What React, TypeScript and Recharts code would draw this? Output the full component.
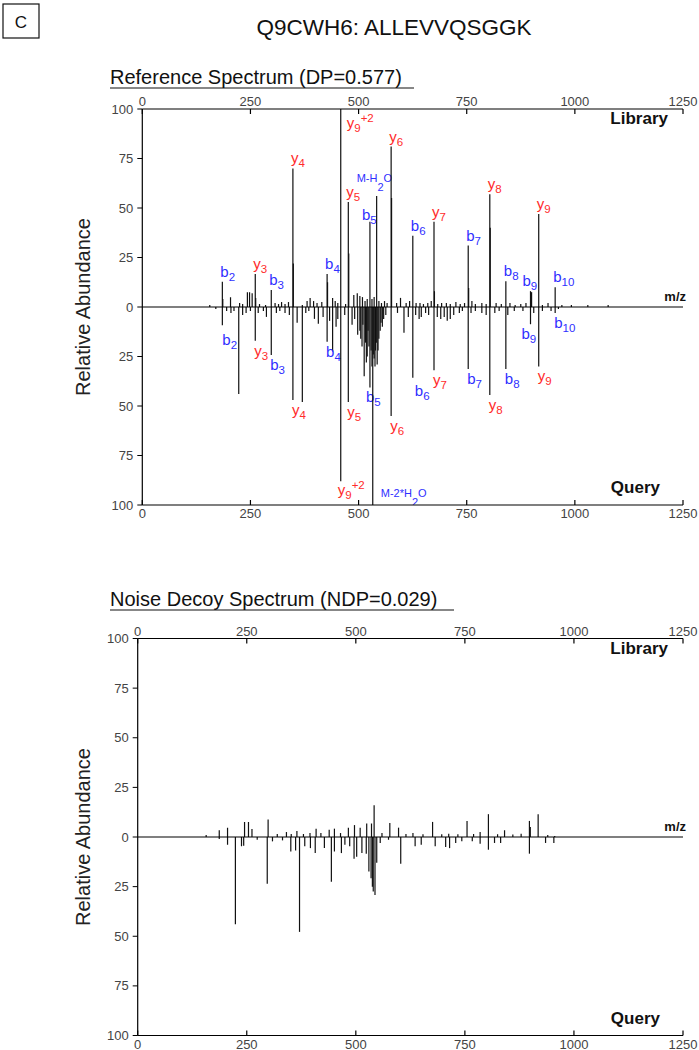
import React from 'react';
import { ComposedChart, Bar, XAxis, YAxis, ReferenceLine } from 'recharts';

const FONT = 'Arial, "Liberation Sans", Helvetica, sans-serif';
const RED = '#ff2b2b';
const BLUE = '#2f2fff';

const mzTicks = [0, 250, 500, 750, 1000, 1250];
const abundanceTicks = [-100, -75, -50, -25, 0, 25, 50, 75, 100];

// reference spectrum, annotated fragments: [m/z, relative abundance, ion]
const refLibraryIons: [number, number, string][] = [
  [185.1, 12.8, 'b2'], [261.2, 16.7, 'y3'], [298.2, 8.6, 'b3'], [348.2, 70, 'y4'],
  [427.3, 16.7, 'b4'], [458.8, 100, 'y9+2'], [476.3, 53, 'y5'], [526.3, 43, 'b5'],
  [541.8, 56, 'M-H2O'], [575.3, 81, 'y6'], [625.4, 36, 'b6'], [674.4, 43, 'y7'],
  [753.5, 31, 'b7'], [803.4, 57, 'y8'], [840.5, 13, 'b8'], [897.5, 8, 'b9'],
  [916.5, 47, 'y9'], [954.5, 10, 'b10'],
];
const refQueryIons: [number, number, string][] = [
  [185.1, 9.2, 'b2'], [261.2, 17, 'y3'], [298.2, 24.3, 'b3'], [348.2, 47, 'y4'],
  [427.3, 17.5, 'b4'], [458.8, 88, 'y9+2'], [476.3, 48, 'y5'], [526.3, 40.6, 'b5'],
  [532.8, 100, 'M-2*H2O'], [575.3, 55, 'y6'], [625.4, 35.7, 'b6'], [674.4, 32, 'y7'],
  [753.5, 31.3, 'b7'], [803.4, 44.5, 'y8'], [840.5, 31.3, 'b8'], [897.5, 8.7, 'b9'],
  [916.5, 30, 'y9'], [954.5, 3, 'b10'],
];

// unlabelled peaks (isotopes and noise): [m/z, relative abundance]
const refLibraryOther: [number, number][] = [
  [156, 1], [186.1, 4], [204, 4.9], [225, 2], [232, 1.5], [243, 7.5], [248, 7.5], [254, 7],
  [262.2, 4.5], [271, 1.5], [285, 1], [307, 2], [315, 1.5], [322, 2.5], [330, 1.5], [338, 2.5],
  [349.2, 22], [370, 1], [381, 3], [388, 4.5], [396, 3], [404, 2], [415, 2.5], [428.3, 12.5],
  [440, 4.6], [446, 3], [452, 2], [470, 1.5], [477.3, 27], [489, 6], [497, 7], [503, 5.5],
  [509, 5], [515, 3], [520, 4], [531, 4], [536, 5], [547, 3], [553, 2], [560, 3], [566, 2],
  [576.3, 55], [588, 2], [597, 4.6], [610, 2], [618, 3], [633, 2], [642, 2], [650, 1.5],
  [660, 2], [668, 3], [675.4, 8], [683, 1.5], [692, 2], [703, 2], [712, 1.5], [725, 2.5],
  [735, 1.5], [745, 2], [754.5, 9.6], [762, 3], [770, 1.5], [785, 2], [795, 1.5], [804.4, 40],
  [818, 2], [830, 1.5], [850, 2], [862, 1], [875, 1.5], [887, 2], [900, 7.5], [925, 1],
  [938, 2], [970, 1], [992, 1], [1030, 1], [1077, 1],
];
const refQueryOther: [number, number][] = [
  [170, 1], [195, 2], [205, 3], [212, 2], [223, 44], [232, 4], [240, 3], [250, 2], [268, 3],
  [280, 2], [287, 5], [310, 3], [318, 2], [330, 3], [340, 4], [358, 8], [370, 48], [378, 3],
  [385, 2], [398, 6], [407, 8.4], [418, 5], [433, 7], [440, 22.5], [448, 10], [452, 6],
  [468, 4], [485, 9], [491, 6], [498, 14], [503, 12], [505, 16], [508, 20], [510, 9],
  [513, 35], [516, 18], [518, 28], [520, 25], [522, 12], [524, 20], [529, 22], [531, 30],
  [534, 24], [536, 26], [538, 30], [539, 22], [541, 18], [543, 29], [545, 22], [547, 16],
  [550, 12], [552, 8], [555, 10], [558, 6], [563, 4], [590, 3], [605, 13], [615, 5], [632, 4],
  [640, 6], [645, 5], [655, 3], [662, 4], [682, 5], [690, 6], [698, 5], [705, 7], [712, 6],
  [720, 4], [733, 3], [740, 2], [760, 3], [770, 2], [785, 3], [795, 4], [815, 3], [825, 2],
  [845, 4], [860, 2], [880, 2], [905, 3], [925, 2], [945, 2], [962, 1],
];

// noise decoy spectrum: [m/z, relative abundance]
const decoyLibrary: [number, number][] = [
  [157, 1], [187, 3.4], [206, 4.7], [245, 7.6], [254, 7.6], [262, 4], [299, 8.8], [320, 1.5],
  [341, 2.5], [352, 1.5], [365, 3], [380, 1.5], [395, 2], [409, 4.2], [420, 2], [439, 3.7],
  [451, 4.2], [465, 2], [483, 4.7], [497, 6], [510, 4.7], [525, 6.8], [536, 6.8], [542, 16],
  [560, 2], [578, 7.1], [598, 4.7], [615, 1.5], [631, 2], [654, 1.4], [676, 7.6], [697, 1.4],
  [713, 1.7], [734, 1.4], [755, 8.1], [770, 1.5], [785, 2.5], [804, 11.5], [825, 1.4],
  [841, 3.4], [860, 1.2], [879, 1.7], [898, 8.1], [900, 5], [918, 11.5], [940, 1], [956, 0.5],
];
const decoyQuery: [number, number][] = [
  [187, 1], [206, 3.9], [224, 44], [238, 4.7], [243, 4.4], [274, 1.4], [297, 23.6], [309, 2.2],
  [332, 1.7], [351, 7.3], [362, 6.8], [371, 47.8], [383, 4.7], [396, 5.6], [407, 8.1],
  [428, 5.6], [444, 22.5], [451, 7.3], [467, 8.1], [475, 3.9], [486, 4.7], [496, 11], [502, 10],
  [514, 8.1], [524, 8.4], [530, 17.4], [535, 20.8], [538, 25], [540, 27.5], [544, 29.2],
  [548, 13], [556, 3], [575, 1.4], [603, 13.5], [636, 4.7], [650, 3.9], [682, 4.7], [706, 5],
  [715, 5.6], [729, 3], [743, 2.2], [767, 2.2], [785, 3.4], [804, 6.4], [818, 3], [832, 3],
  [898, 8.4], [935, 3], [954, 3],
];

type Row = { mz: number; v: number; ion?: string; side: 'lib' | 'qry' };

const buildRows = (
  libOther: [number, number][],
  qryOther: [number, number][],
  libIons: [number, number, string][] = [],
  qryIons: [number, number, string][] = [],
): Row[] => [
  ...libOther.map(([mz, i]) => ({ mz, v: i, side: 'lib' as const })),
  ...qryOther.map(([mz, i]) => ({ mz, v: -i, side: 'qry' as const })),
  ...libIons.map(([mz, i, ion]) => ({ mz, v: i, ion, side: 'lib' as const })),
  ...qryIons.map(([mz, i, ion]) => ({ mz, v: -i, ion, side: 'qry' as const })),
];

const refRows = buildRows(refLibraryOther, refQueryOther, refLibraryIons, refQueryIons);
const decoyRows = buildRows(decoyLibrary, decoyQuery);

// label offsets from the peak tip (x: from line, y: baseline)
const labelOffset: Record<string, { dx: number; dy: number }> = {
  lib: { dx: -2, dy: -5 },
  qry: { dx: -1, dy: 15 },
  'lib:b5': { dx: -8, dy: -2 },
  'lib:b9': { dx: -8, dy: -5 },
  'lib:y9+2': { dx: 6, dy: 19 },
  'lib:M-H2O': { dx: -20, dy: -14 },
  'qry:b2': { dx: 0, dy: 20 },
  'qry:b5': { dx: -4, dy: 15 },
  'qry:b6': { dx: 2, dy: 18 },
  'qry:b9': { dx: -9, dy: 15 },
  'qry:y9+2': { dx: -3, dy: 14 },
  'qry:M-2*H2O': { dx: 8, dy: -8 },
};

const IonLabel = ({ ion, x, y, color }: { ion: string; x: number; y: number; color: string }) => {
  if (ion.startsWith('M')) {
    return (
      <text x={x} y={y} fill={color} fontSize={11} fontFamily={FONT}>
        {ion.slice(0, -2)}
        <tspan dy={9}>2</tspan>
        <tspan dy={-9}>O</tspan>
      </text>
    );
  }
  const m = ion.match(/^([a-z])(\d+)(\+\d)?$/);
  if (!m) return null;
  return (
    <text x={x} y={y} fill={color} fontSize={15} fontFamily={FONT}>
      {m[1]}
      <tspan fontSize={11.5} dy={4}>{m[2]}</tspan>
      {m[3] ? <tspan fontSize={11.5} dy={-10}>{m[3]}</tspan> : null}
    </text>
  );
};

const renderPeak = (props: any) => {
  const { x, y, width, height, payload } = props;
  if (x == null || y == null || !payload) return <g />;
  const cx = x + (width || 0) / 2;
  const up = payload.v >= 0;
  const a = y;
  const b = y + (height || 0);
  const tip = up ? Math.min(a, b) : Math.max(a, b);
  const base = up ? Math.max(a, b) : Math.min(a, b);
  const off = payload.ion ? labelOffset[`${payload.side}:${payload.ion}`] || labelOffset[payload.side] : null;
  return (
    <g>
      <line x1={cx} x2={cx} y1={base} y2={tip} stroke="#111" strokeWidth={1.2} />
      {payload.ion && off ? (
        <IonLabel
          ion={payload.ion}
          x={cx + off.dx}
          y={tip + off.dy}
          color={payload.ion.startsWith('y') ? RED : BLUE}
        />
      ) : null}
    </g>
  );
};

const MzTick = (props: any) => {
  const { x, y, payload, side } = props;
  const top = side === 'top';
  return (
    <g>
      <line x1={x} x2={x} y1={y} y2={top ? y + 5 : y - 5} stroke="#000" strokeWidth={1.2} />
      <text x={x} y={top ? y - 3 : y + 13} textAnchor="middle" fill="#444" fontSize={13} fontFamily={FONT}>
        {payload.value}
      </text>
    </g>
  );
};

type ChartProps = {
  rows: Row[];
  height: number;
  margin: { top: number; right: number; bottom: number; left: number };
  bottomAxisHeight: number;
};

const SpectrumChart = ({ rows, height, margin, bottomAxisHeight }: ChartProps) => (
  <ComposedChart width={699} height={height} data={rows} margin={margin}>
    <XAxis
      xAxisId="top"
      orientation="top"
      dataKey="mz"
      type="number"
      domain={[0, 1250]}
      ticks={mzTicks}
      interval={0}
      height={20}
      tickSize={0}
      tickMargin={0}
      tickLine={false}
      tick={<MzTick side="top" />}
      axisLine={{ stroke: '#000', strokeWidth: 1.2 }}
      allowDataOverflow
    />
    <XAxis
      xAxisId="bottom"
      orientation="bottom"
      dataKey="mz"
      type="number"
      domain={[0, 1250]}
      ticks={mzTicks}
      interval={0}
      height={bottomAxisHeight}
      tickSize={0}
      tickMargin={0}
      tickLine={false}
      tick={<MzTick side="bottom" />}
      axisLine={{ stroke: '#000', strokeWidth: 1.2 }}
      allowDataOverflow
    />
    <YAxis
      yAxisId="y"
      type="number"
      domain={[-100, 100]}
      ticks={abundanceTicks}
      interval={0}
      width={42}
      tickSize={5}
      tickMargin={4}
      tickFormatter={(v: number) => String(Math.abs(v))}
      tick={{ fill: '#444', fontSize: 13, fontFamily: FONT }}
      tickLine={{ stroke: '#000' }}
      axisLine={{ stroke: '#000', strokeWidth: 1.2 }}
      allowDataOverflow
    />
    <ReferenceLine xAxisId="bottom" yAxisId="y" y={0} stroke="#000" strokeWidth={1.2} />
    <Bar
      xAxisId="bottom"
      yAxisId="y"
      dataKey="v"
      barSize={2}
      shape={renderPeak}
      isAnimationActive={false}
    />
  </ComposedChart>
);

type PanelTextProps = {
  title: string;
  titleY: number;
  titleEnd: number;
  top: number;
  zero: number;
  bottom: number;
};

const PanelText = ({ title, titleY, titleEnd, top, zero, bottom }: PanelTextProps) => (
  <g fontFamily={FONT}>
    <text x={110} y={titleY} fontSize={20} fill="#111">{title}</text>
    <line x1={110} x2={titleEnd} y1={titleY + 4} y2={titleY + 4} stroke="#111" strokeWidth={1.2} />
    <text x={668} y={top + 15} fontSize={17} fontWeight="bold" textAnchor="end" fill="#111">Library</text>
    <text x={660} y={bottom - 12} fontSize={17} fontWeight="bold" textAnchor="end" fill="#111">Query</text>
    <text x={686} y={zero - 6} fontSize={13} fontWeight="bold" textAnchor="end" fill="#111">m/z</text>
    <text
      x={90}
      y={zero}
      fontSize={20}
      textAnchor="middle"
      fill="#222"
      transform={`rotate(-90 90 ${zero})`}
    >
      Relative Abundance
    </text>
  </g>
);

export default function App() {
  return (
    <div style={{ position: 'absolute', left: 0, top: 0, width: 699, height: 1050, background: '#fff', overflow: 'hidden' }}>
      <div style={{ position: 'absolute', left: 0, top: 0 }}>
        <SpectrumChart
          rows={refRows}
          height={540}
          margin={{ top: 89, right: 16, bottom: 15, left: 100.3 }}
          bottomAxisHeight={20}
        />
      </div>
      <div style={{ position: 'absolute', left: 0, top: 540 }}>
        <SpectrumChart
          rows={decoyRows}
          height={510}
          margin={{ top: 78.5, right: 16, bottom: 0.5, left: 95.7 }}
          bottomAxisHeight={14}
        />
      </div>
      <svg
        width={699}
        height={1050}
        style={{ position: 'absolute', left: 0, top: 0, pointerEvents: 'none' }}
      >
        <rect x={3} y={4} width={36} height={34} fill="none" stroke="#111" strokeWidth={1.2} />
        <text x={21} y={28} textAnchor="middle" fontSize={17} fontFamily={FONT} fill="#111">C</text>
        <text x={394} y={35} textAnchor="middle" fontSize={22.5} fontFamily={FONT} fill="#111">
          Q9CWH6: ALLEVVQSGGK
        </text>
        <PanelText
          title="Reference Spectrum (DP=0.577)"
          titleY={84}
          titleEnd={414}
          top={109}
          zero={307}
          bottom={505}
        />
        <PanelText
          title="Noise Decoy Spectrum (NDP=0.029)"
          titleY={606}
          titleEnd={454}
          top={638.5}
          zero={837}
          bottom={1035.5}
        />
      </svg>
    </div>
  );
}
